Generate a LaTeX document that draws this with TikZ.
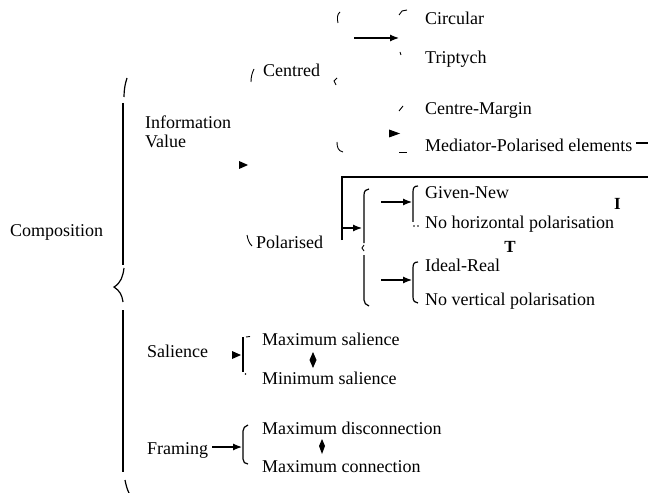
\documentclass[tikz,border=0pt]{standalone}
\usepackage{fontspec}
\setmainfont{Liberation Serif}
\usetikzlibrary{arrows.meta}
\begin{document}
\begin{tikzpicture}[x=1bp,y=-1bp,
  lbl/.style={anchor=west,inner sep=0pt,font=\fontsize{18bp}{21bp}\selectfont,text height=14bp,text depth=0bp},
  small/.style={anchor=center,inner sep=0pt,font=\fontsize{17bp}{19bp}\selectfont\bfseries},
  ln/.style={line width=1.2bp,line cap=butt},
  thin/.style={line width=0.9bp},
  arr/.style={ln,-{Latex[length=9bp,width=7bp]}},
  head/.style={fill=black}]
\useasboundingbox[fill=white] (0,0) rectangle (648,493);

% ---------- texts ----------
\node[lbl] (comp) at (10,230) {Composition};
\node[lbl] (info) at (145,122) {Information};
\node[lbl] (val)  at (145,141) {Value};
\node[lbl] (cen)  at (263,70) {Centred};
\node[lbl] (circ) at (425,18) {Circular};
\node[lbl] (trip) at (425,57) {Triptych};
\node[lbl] (cm)   at (425,108) {Centre-Margin};
\node[lbl] (med)  at (425,145) {Mediator-Polarised elements};
\node[lbl] (pol)  at (256,242) {Polarised};
\node[lbl] (gn)   at (425,192) {Given-New};
\node[lbl] (nh)   at (425,222) {No horizontal polarisation};
\node[lbl] (ir)   at (425,264) {Ideal-Real};
\node[lbl] (nv)   at (425,298) {No vertical polarisation};
\node[lbl] (sal)  at (147,350) {Salience};
\node[lbl] (maxs) at (262,338) {Maximum salience};
\node[lbl] (mins) at (262,377) {Minimum salience};
\node[lbl] (fr)   at (147,447) {Framing};
\node[lbl] (maxd) at (262,427) {Maximum disconnection};
\node[lbl] (maxc) at (262,465) {Maximum connection};
\node[small] (tI) at (617.5,204) {I};
\node[small] (tT) at (510,247) {T};

% ---------- big brace (Composition) ----------
\draw[ln] (127,78) .. controls (125,84) and (124,90) .. (124,97);
\draw[ln] (123,103) -- (123,265);
\draw[ln] (124,268) .. controls (123,276) and (121,283) .. (114,287)
          .. controls (120,291) and (122,295) .. (123,302);
\draw[ln] (123,310) -- (123,472);
\draw[ln] (125,480) .. controls (126,485) and (127,489) .. (129,493);

% ---------- Information value ----------
\fill (239,161) -- (248,165) -- (239,169) -- cycle;
\draw[thin] (254,69) .. controls (252,73) and (251,77) .. (251,82);

% ---------- Centred brace fragments ----------
\draw[thin] (340,12) .. controls (337,14) and (337,19) .. (338,23);
\draw[thin] (337,78) -- (334,81) -- (336,85);
\draw[thin] (337,142) .. controls (337,147) and (338,151) .. (343,152);
\coordinate (ca1) at (354,38);
\coordinate (ca2) at (399,38);
\draw[arr] (ca1) -- (ca2);
\draw[thin] (399,15) -- (402,11) -- (407,10);
\draw[thin] (400,52) -- (401,55);
\draw[thin] (403,106) -- (399,111);
\draw[thin] (399,152) -- (407,152);
\fill (389,129.5) -- (400,133.5) -- (389,137.5) -- cycle;
\coordinate (d1) at (636,143);
\coordinate (d2) at (648,143);
\draw[ln] (d1) -- (d2);

% ---------- Polarised ----------
\draw[thin] (247,235) .. controls (248,240) and (249,243) .. (252,246);
\coordinate (p0) at (342,240);
\coordinate (p1) at (342,177);
\coordinate (p2) at (648,177);
\draw[ln] (p0) -- (p1) -- (p2);
\coordinate (pa1) at (342,228);
\coordinate (pa2) at (362,228);
\draw[arr] (pa1) -- (pa2);
\draw[ln] (369,189) .. controls (366,189) and (364,191) .. (364,195) -- (364,243);
\draw[thin] (364,245) -- (362,248) -- (364,251);
\draw[ln] (364,255) -- (364,300) .. controls (364,303) and (366,305) .. (369,306);
\coordinate (ga1) at (381,202);
\coordinate (ga2) at (412,202);
\draw[arr] (ga1) -- (ga2);
\coordinate (ia1) at (381,280);
\coordinate (ia2) at (412,280);
\draw[arr] (ia1) -- (ia2);
\draw[ln] (418,186) .. controls (414,186) and (413,188) .. (413,192) -- (413,222);
\fill (414,226) circle (0.8);
\fill (418,226) circle (0.8);
\draw[ln] (418,262) .. controls (414,262) and (413,264) .. (413,268) -- (413,297)
          .. controls (413,301) and (415,303) .. (418,303);

% ---------- Salience ----------
\fill (232,351) -- (241,355) -- (232,359) -- cycle;
\draw[ln] (243,337) -- (243,372);
\draw[thin] (246,337) -- (250,336.5);
\fill (245.5,374) circle (0.8);
\fill (313,352) -- (316.5,360) -- (313,368) -- (309.5,360) -- cycle;

% ---------- Framing ----------
\coordinate (fa1) at (212,447);
\coordinate (fa2) at (242,447);
\draw[arr] (fa1) -- (fa2);
\draw[ln] (248,425) .. controls (245,426) and (243,428) .. (243,431) -- (243,459)
          .. controls (243,462) and (245,464) .. (248,464);
\fill (322,439) -- (325,446) -- (322,454) -- (319,446) -- cycle;
\end{tikzpicture}
\end{document}
